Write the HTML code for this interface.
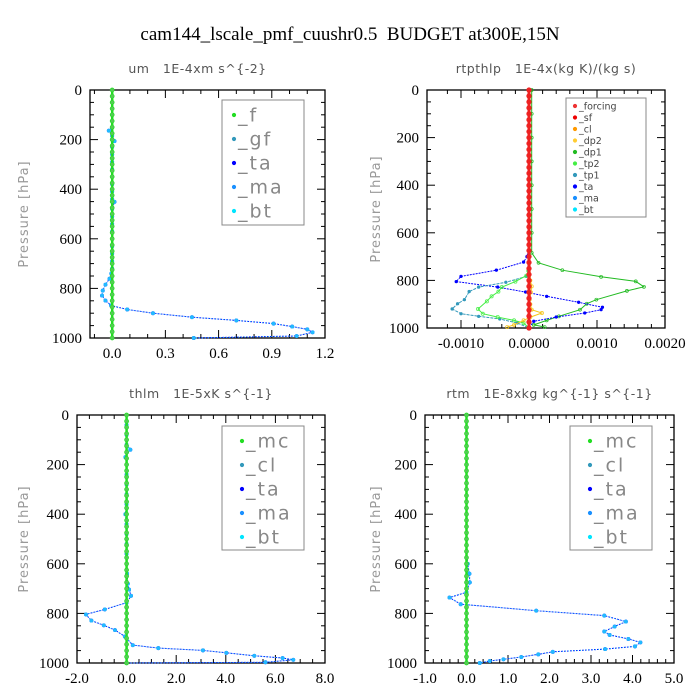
<!DOCTYPE html>
<html><head><meta charset="utf-8"><style>
html,body{margin:0;padding:0;background:#fff;}
svg{display:block;}
text{white-space:pre;}
</style></head><body>
<svg id="chart" width="700" height="700" xmlns="http://www.w3.org/2000/svg">
<text x="350" y="40" text-anchor="middle" font-family="Liberation Serif, serif" font-size="19" fill="#000">cam144_lscale_pmf_cuushr0.5  BUDGET at300E,15N</text>
</svg>
<script>
// ---- Panel 1: um ----
const p1TaP = [0,25,50,75,100,125,150,164,185,206,230,260,290,320,350,380,410,440,451,480,510,540,570,600,630,660,690,720,740,761,785,809,829,849,869,885,900,916,929,942,954,965,977,992,1000];
const p1TaX = [0,0,0,0,0,0,0,-0.019,0,0.013,0,0,0,0,0,0,0,0,0.013,0,0,0,0,0,0,0,0,0,-0.005,-0.015,-0.038,-0.053,-0.057,-0.038,-0.006,0.085,0.23,0.45,0.70,0.91,1.015,1.10,1.13,1.04,0.46];
// ---- Panel 2: rtpthlp ----
const p2Dp1P = [0,100,200,300,400,500,600,684,726,757,785,804,827,844,881,898,923,951,968,987,996];
const p2Dp1X = [0.00004,0.00004,0.00004,0.00004,0.00004,0.00004,0.00004,0.00004,0.00014,0.00049,0.00106,0.00157,0.00169,0.00144,0.00099,0.00085,0.00075,0.00044,0.00026,0.00007,0.00023];
const p2TaP = [650,700,723,757,783,805,828,849,867,892,913,923,937,954,972,1000];
const p2TaX = [0,-0.00003,-0.00008,-0.00048,-0.001,-0.00107,-0.00046,-0.00005,0.00026,0.00073,0.00108,0.00106,0.00082,0.0004,0.00007,0];
const p2Tp1P = [700,760,783,808,828,847,881,898,920,940,951,962,979,1000];
const p2Tp1X = [0,-0.00001,-0.00004,-0.00034,-0.00074,-0.00088,-0.00095,-0.00105,-0.00113,-0.001,-0.00074,-0.00043,-0.00017,0];
const p2Tp2P = [700,760,780,805,828,847,867,888,920,940,954,968,979,1000];
const p2Tp2X = [0,-0.00001,-0.00004,-0.0002,-0.0004,-0.00045,-0.00055,-0.00062,-0.00075,-0.00068,-0.00046,-0.00022,-0.00008,0];
const p2Dp2P = [0,200,400,600,800,825,850,880,900,923,937,954,968,987,996];
const p2Dp2X = [0,0,0,0,0.00002,0.00004,0.00003,0.00001,0.00002,0.00004,0.00019,0.00002,-0.00008,-0.00022,-0.00032];
// ---- Panel 3: thlm ----
const p3TaP = [0,40,80,120,140,170,200,240,280,320,360,400,440,480,520,560,600,640,680,704,729,757,784,804,829,848,867,893,928,940,949,959,971,980,987,997,1000];
const p3TaX = [0,0,0,0,0.15,-0.05,0,0,0,0,0,-0.05,0,0,0,0,0,0.02,0.05,0.1,0.18,0,-0.88,-1.64,-1.42,-0.92,-0.47,-0.07,0.25,1.28,3.08,4.02,5.15,6.29,6.72,5.6,0];
// ---- Panel 4: rtm ----
const p4TaP = [0,50,100,150,200,250,300,350,400,450,500,550,600,640,675,715,736,763,789,809,833,853,873,887,903,917,933,944,955,965,976,985,992,1000];
const p4TaX = [0,0,0,0,0,0,0,0,0,0,0,0,0.03,0.07,0.08,0,-0.41,-0.14,1.68,3.32,3.84,3.57,3.32,3.45,3.9,4.19,4.06,3.34,2.08,1.73,1.32,0.89,0.56,0.32];
const zeroP = [0,25,50,75,100,125,150,175,200,225,250,275,300,325,350,375,400,425,450,475,500,525,550,575,600,625,650,675,700,725,750,775,800,825,850,875,900,925,950,975,1000];
const zeroX = zeroP.map(()=>0);

const svg = document.getElementById('chart');
const NS = 'http://www.w3.org/2000/svg';
function mk(tag, attrs, parent){const e=document.createElementNS(NS,tag);for(const k in attrs)e.setAttribute(k,attrs[k]);(parent||svg).appendChild(e);return e;}

function panel(cfg){
  const g = mk('g',{});
  
  
  const {x0,x1,y0,y1,xmin,xmax} = cfg;
  const sx = v => x0 + (v - xmin)/(xmax - xmin)*(x1 - x0);
  const sy = p => y0 + p/1000*(y1 - y0);
  const fr = mk('rect',{x:x0,y:y0,width:x1-x0,height:y1-y0,fill:'none',stroke:'#000','stroke-width':1.3},g);
  
  
  for(let p=0;p<=1000;p+=50){
    const maj = p%200===0, L = maj?8:4;
    mk('line',{x1:x0,x2:x0+L,y1:sy(p),y2:sy(p),stroke:'#000','stroke-width':1},g);
    mk('line',{x1:x1,x2:x1-L,y1:sy(p),y2:sy(p),stroke:'#000','stroke-width':1},g);
    if(maj){
      const t = mk('text',{x:x0-8,y:sy(p)+5,'text-anchor':'end','font-family':'Liberation Serif, serif','font-size':15},g);
      t.textContent = p;
      
      
    }
  }
  for(let i=0;i<cfg.xmin_ticks.length;i++){
    const v = cfg.xmin_ticks[i];
    mk('line',{x1:sx(v),x2:sx(v),y1:y1,y2:y1-4,stroke:'#000'},g);
    mk('line',{x1:sx(v),x2:sx(v),y1:y0,y2:y0+4,stroke:'#000'},g);
  }
  for(let i=0;i<cfg.xticks.length;i++){
    const v = cfg.xticks[i];
    mk('line',{x1:sx(v),x2:sx(v),y1:y1,y2:y1-8,stroke:'#000'},g);
    mk('line',{x1:sx(v),x2:sx(v),y1:y0,y2:y0+8,stroke:'#000'},g);
    const t = mk('text',{x:sx(v),y:y1+20,'text-anchor':'middle','font-family':'Liberation Serif, serif','font-size':15},g);
    t.textContent = cfg.xlabels[i];
    
    
  }
  const st = mk('text',{x:(x0+x1)/2+cfg.tdx,y:y0-17,'text-anchor':'middle','font-family':'DejaVu Sans, sans-serif','font-size':12.5,fill:'#555','letter-spacing':'0.5'},g);
  st.textContent = cfg.title;
  
  
  const yc=(y0+y1)/2, yx=cfg.ylx;
  const yt = mk('text',{x:yx,y:yc,transform:`rotate(-90 ${yx} ${yc})`,'text-anchor':'middle','font-family':'DejaVu Sans, sans-serif','font-size':13,fill:'#999','letter-spacing':'1'},g);
  yt.textContent = 'Pressure [hPa]';
  
  
  cfg.series.forEach(s=>{
    const sg = mk('g',{},g);
    
    
    const pts = s.p.map((p,i)=>sx(s.x[i]).toFixed(1)+','+sy(p).toFixed(1)).join(' ');
    mk('polyline',{points:pts,fill:'none',stroke:s.c,'stroke-width':s.w||1,'stroke-dasharray':s.dash||'2,1'},sg);
    s.p.forEach((p,i)=>{
      const m = mk('circle',{cx:sx(s.x[i]),cy:sy(p),r:s.r||1.6,fill:s.fill||s.c,stroke:s.c,'stroke-width':0.7},sg);
      
      
    });
  });
  const L = cfg.legend;
  const lg = mk('g',{},g);
  
  
  mk('rect',{x:L.x,y:L.y,width:L.w,height:L.h,fill:'#fff',stroke:'#888','stroke-width':1},lg);
  L.items.forEach((it,i)=>{
    const yy = L.y + L.pad + i*L.dy;
    const e = mk('g',{},lg);
    
    
    mk('circle',{cx:L.x+L.mx,cy:yy,r:1.6,fill:it[1],stroke:it[1]},e);
    const t = mk('text',{x:L.x+L.mx+4,y:yy+L.fs*0.35,'font-family':'DejaVu Sans, sans-serif','font-size':L.fs,fill:L.small?'#444':'#888','letter-spacing':L.small?'0':'2'},e);
    t.textContent = it[0];
  });
}

const G='#22dd22', B='#0000ff', C='#22bbff', S='#1a90ff', T='#3399bb';

panel({name:'panel-um',x0:90,x1:325,y0:90,y1:338,xmin:-0.125,xmax:1.2,ylx:28,tdx:-10,
  title:'um   1E-4xm s^{-2}',
  xticks:[0,0.3,0.6,0.9,1.2],xlabels:['0.0','0.3','0.6','0.9','1.2'],xmin_ticks:[-0.1,0.1,0.2,0.4,0.5,0.7,0.8,1.0,1.1],
  series:[{label:'_ta',p:p1TaP,x:p1TaX,c:B},{label:'_bt',p:p1TaP,x:p1TaX,c:C,dash:'1,2'},{label:'_f',p:zeroP,x:zeroX,c:G,w:2.5,dash:'none',r:2,fill:'#55cc55'}],
  legend:{x:222,y:100,w:82,h:125,pad:15,dy:24,mx:12,fs:19,items:[['_f',G],['_gf',T],['_ta',B],['_ma',S],['_bt','#00e5ff']]}});

panel({name:'panel-rtpthlp',x0:427,x1:665,y0:90,y1:328,xmin:-0.0015,xmax:0.002,ylx:380,tdx:0,
  title:'rtpthlp   1E-4x(kg K)/(kg s)',
  xticks:[-0.001,0,0.001,0.002],xlabels:['-0.0010','0.0000','0.0010','0.0020'],xmin_ticks:[-0.0012,-0.0008,-0.0006,-0.0004,-0.0002,0.0002,0.0004,0.0006,0.0008,0.0012,0.0014,0.0016,0.0018],
  series:[{label:'_dp1',p:p2Dp1P,x:p2Dp1X,c:'#22bb22',dash:'none',r:1.5,fill:'none'},
    {label:'_ta',p:p2TaP,x:p2TaX,c:B,r:1.3},
    {label:'_tp1',p:p2Tp1P,x:p2Tp1X,c:T,dash:'3,1',r:1.3},
    {label:'_tp2',p:p2Tp2P,x:p2Tp2X,c:'#44ee44',dash:'none',fill:'none'},
    {label:'_dp2',p:p2Dp2P,x:p2Dp2X,c:'#f5c518',dash:'none',fill:'none'},
    {label:'_forcing',p:zeroP,x:zeroX,c:'#ee2222',w:3,dash:'none',r:2.3}],
  legend:{x:566,y:98,w:80,h:119,pad:8,dy:11.5,mx:9,fs:9.5,small:true,items:[['_forcing','#e33'],['_sf','#e00'],['_cl','#f90'],['_dp2','#fc3'],['_dp1','#2b2'],['_tp2','#4e4'],['_tp1',T],['_ta',B],['_ma',S],['_bt','#00e5ff']]}});

panel({name:'panel-thlm',x0:77,x1:325,y0:415,y1:663,xmin:-2,xmax:8,ylx:28,tdx:0,
  title:'thlm   1E-5xK s^{-1}',
  xticks:[-2,0,2,4,6,8],xlabels:['-2.0','0.0','2.0','4.0','6.0','8.0'],xmin_ticks:[-1.5,-1,-0.5,0.5,1,1.5,2.5,3,3.5,4.5,5,5.5,6.5,7,7.5],
  series:[{label:'_ta',p:p3TaP,x:p3TaX,c:B},{label:'_bt',p:p3TaP,x:p3TaX,c:C,dash:'1,2'},{label:'_mc',p:zeroP,x:zeroX,c:G,w:2.5,dash:'none',r:2,fill:'#55cc55'}],
  legend:{x:222,y:426,w:82,h:124,pad:15,dy:24,mx:20,fs:19,items:[['_mc',G],['_cl',T],['_ta',B],['_ma',S],['_bt','#00e5ff']]}});

panel({name:'panel-rtm',x0:425,x1:674,y0:415,y1:663,xmin:-1,xmax:5,ylx:380,tdx:0,
  title:'rtm   1E-8xkg kg^{-1} s^{-1}',
  xticks:[-1,0,1,2,3,4,5],xlabels:['-1.0','0.0','1.0','2.0','3.0','4.0','5.0'],xmin_ticks:[-0.8,-0.6,-0.4,-0.2,0.2,0.4,0.6,0.8,1.2,1.4,1.6,1.8,2.2,2.4,2.6,2.8,3.2,3.4,3.6,3.8,4.2,4.4,4.6,4.8],
  series:[{label:'_ta',p:p4TaP,x:p4TaX,c:B},{label:'_bt',p:p4TaP,x:p4TaX,c:C,dash:'1,2'},{label:'_mc',p:zeroP,x:zeroX,c:G,w:2.5,dash:'none',r:2,fill:'#55cc55'}],
  legend:{x:570,y:426,w:82,h:124,pad:15,dy:24,mx:20,fs:19,items:[['_mc',G],['_cl',T],['_ta',B],['_ma',S],['_bt','#00e5ff']]}});
</script>
</body></html>
